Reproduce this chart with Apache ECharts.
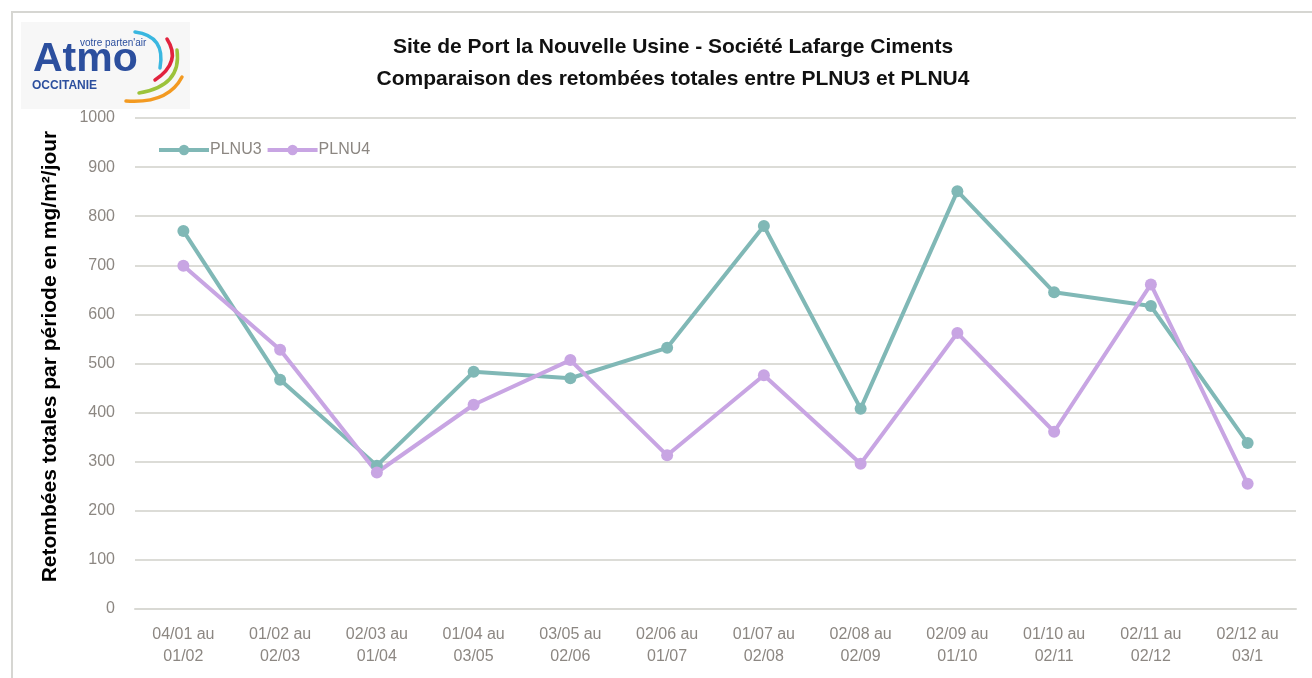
<!DOCTYPE html>
<html>
<head>
<meta charset="utf-8">
<title>Retombées totales PLNU3 / PLNU4</title>
<script src="https://cdn.jsdelivr.net/npm/echarts@6/dist/echarts.min.js"></script>
<style>
    html, body { margin: 0; padding: 0; background: #fff; }
    #main { width: 1312px; height: 678px; }
</style>
</head>
<body>
<div id="main"></div>
<script>
// données
var periodes = ["04/01 au\n01/02", "01/02 au\n02/03", "02/03 au\n01/04", "01/04 au\n03/05",
    "03/05 au\n02/06", "02/06 au\n01/07", "01/07 au\n02/08", "02/08 au\n02/09",
    "02/09 au\n01/10", "01/10 au\n02/11", "02/11 au\n02/12", "02/12 au\n03/1"];
var plnu3 = [770, 467, 292, 483, 470, 532, 780, 408, 851, 645, 617, 338];
var plnu4 = [699, 528, 278, 416, 507, 313, 476, 296, 562, 361, 661, 255];
var yTicks = [0, 1000, 100]; // min, max, pas

var couleur3 = '#80b8b6';
var couleur4 = '#c8a5e3';
var gris = '#8c8782';
var police = '"Liberation Sans Narrow", "Liberation Sans", Arial, sans-serif';
var bleuAtmo = '#2c4f9e';

var myChart = echarts.init(document.getElementById('main'));

// logo Atmo Occitanie : petits arcs de couleur (courbes de bézier)
function courbe(x1, y1, cx, cy, x2, y2, c) {
    return {
        type: 'bezierCurve',
        shape: { x1: x1, y1: y1, cpx1: cx, cpy1: cy, x2: x2, y2: y2 },
        style: { stroke: c, lineWidth: 3.5, fill: null, lineCap: 'round' },
        z: 5
    };
}

var option = {
    backgroundColor: '#fff',
    title: {
        text: 'Site de Port la Nouvelle Usine - Société Lafarge Ciments\nComparaison des retombées totales entre PLNU3 et PLNU4',
        left: 668,
        top: 26,
        textAlign: 'center',
        textStyle: { fontFamily: 'Arial, "Liberation Sans", sans-serif', fontSize: 21, fontWeight: 'bold', color: '#111', lineHeight: 32 }
    },
    legend: {
        left: 152,
        top: 137,
        itemWidth: 50,
        itemHeight: 13,
        itemGap: 4,
        data: ['PLNU3', 'PLNU4'],
        lineStyle: { width: 4 },
        textStyle: { color: gris, fontSize: 16, fontFamily: police, padding: [0, 0, 0, -4] }
    },
    grid: { left: 135, right: 16, top: 118, bottom: 69 },
    xAxis: {
        type: 'category',
        data: periodes,
        boundaryGap: true,
        axisLine: { lineStyle: { color: '#d9d9d4', width: 2 } },
        axisTick: { show: false },
        axisLabel: { color: gris, fontSize: 16, fontFamily: police, lineHeight: 22, margin: 15, interval: 0 }
    },
    yAxis: {
        type: 'value',
        min: yTicks[0],
        max: yTicks[1],
        interval: yTicks[2],
        name: 'Retombées totales par période en mg/m²/jour',
        nameLocation: 'middle',
        nameGap: 74,
        nameTextStyle: { color: '#000', fontSize: 21, fontWeight: 'bold', fontFamily: 'Arial, "Liberation Sans", sans-serif', padding: [0, 0, 0, 14] },
        axisLine: { show: false },
        axisTick: { show: false },
        axisLabel: { color: gris, fontSize: 16, fontFamily: police, margin: 20, formatter: function (v) { return String(v); } },
        splitLine: { lineStyle: { color: '#dcdcd7', width: 2 } }
    },
    series: [
        {
            name: 'PLNU3',
            type: 'line',
            data: plnu3,
            symbol: 'circle',
            symbolSize: 12,
            itemStyle: { color: couleur3 },
            lineStyle: { color: couleur3, width: 4 }
        },
        {
            name: 'PLNU4',
            type: 'line',
            data: plnu4,
            symbol: 'circle',
            symbolSize: 12,
            itemStyle: { color: couleur4 },
            lineStyle: { color: couleur4, width: 4 }
        }
    ],
    graphic: [
        // cadre gris autour du graphique
        { type: 'rect', shape: { x: 12, y: 12, width: 1310, height: 680 }, style: { fill: null, stroke: '#d6d6d2', lineWidth: 2 }, z: 0 },
        // fond du logo
        { type: 'rect', shape: { x: 21, y: 22, width: 169, height: 87 }, style: { fill: '#f7f7f7' }, z: 1 },
        courbe(135, 32, 166, 36, 160, 68, '#3ab7e0'),
        courbe(167, 39, 182, 62, 155, 80, '#e2233e'),
        courbe(177, 50, 182, 86, 139, 93, '#9cc33b'),
        courbe(182, 77, 168, 104, 126, 101, '#f39a21'),
        { type: 'text', style: { x: 33, y: 60, text: 'Atmo', fill: bleuAtmo, font: 'bold 41px Arial, "Liberation Sans", sans-serif', verticalAlign: 'middle' }, z: 6 },
        { type: 'text', style: { x: 80, y: 43, text: "votre parten'air", fill: bleuAtmo, font: '10px Arial, "Liberation Sans", sans-serif', verticalAlign: 'middle' }, z: 6 },
        { type: 'text', style: { x: 32, y: 86, text: 'OCCITANIE', fill: bleuAtmo, font: 'bold 12px Arial, "Liberation Sans", sans-serif', verticalAlign: 'middle' }, z: 6 }
    ]
};

myChart.setOption(option);
</script>
</body>
</html>
